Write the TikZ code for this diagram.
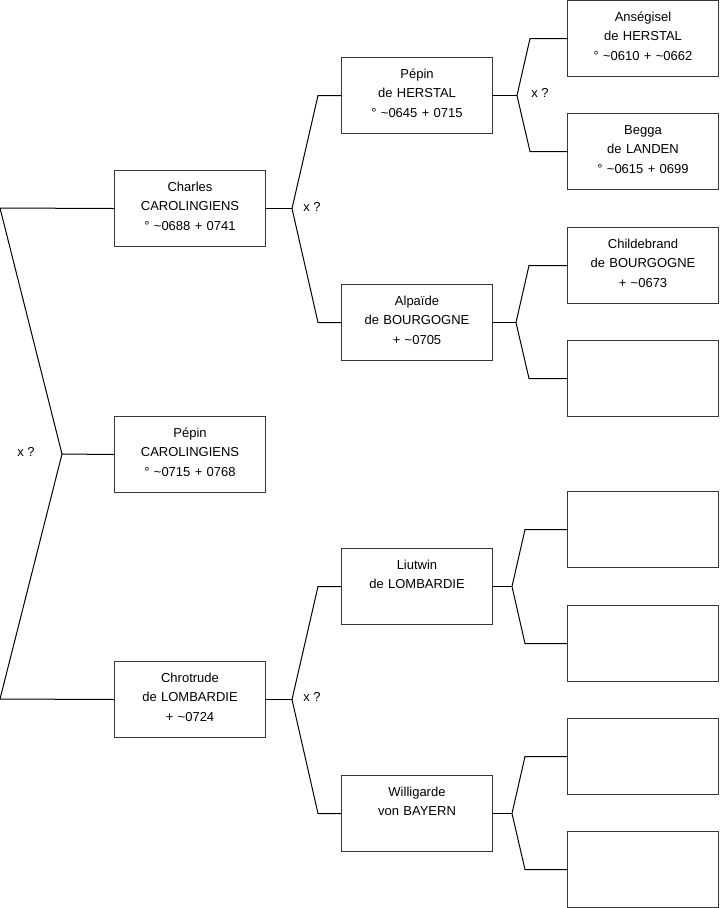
\documentclass[tikz,border=0pt]{standalone}
\usepackage{fontspec}
\setmainfont{Liberation Sans}
\usetikzlibrary{calc}

\definecolor{boxline}{RGB}{55,55,55}
\newcommand{\tld}{\textasciitilde}

\begin{document}
\begin{tikzpicture}[x=0.75pt, y=-0.75pt,
    personbox/.style={draw=boxline, line width=0.75pt, fill=white, anchor=north west,
      inner sep=0pt, text width=113.25pt, align=center,
      text height=15.75pt, text depth=41.25pt,
      font=\fontsize{9.75}{14.6}\selectfont},
    forkline/.style={line width=0.75pt},
    unionlabel/.style={inner sep=0pt, font=\fontsize{9.75}{11}\selectfont}]
  \useasboundingbox (0,0) rectangle (719,908);

  % generation 1
  \node[personbox] (charles)   at (114,170) {Charles\\CAROLINGIENS\\° \tld0688 + 0741};
  \node[personbox] (pepinC)    at (114,416) {Pépin\\CAROLINGIENS\\° \tld0715 + 0768};
  \node[personbox] (chrotrude) at (114,661) {Chrotrude\\de LOMBARDIE\\+ \tld0724};

  % generation 2
  \node[personbox] (pepinH)  at (341,57)  {Pépin\\de HERSTAL\\° \tld0645 + 0715};
  \node[personbox] (alpaide) at (341,284) {Alpaïde\\de BOURGOGNE\\+ \tld0705};
  \node[personbox] (liutwin) at (341,548) {Liutwin\\de LOMBARDIE};
  \node[personbox] (willi)   at (341,775) {Willigarde\\von BAYERN};

  % generation 3
  \node[personbox] (anse)   at (567,0)   {Anségisel\\de HERSTAL\\° \tld0610 + \tld0662};
  \node[personbox] (begga)  at (567,113) {Begga\\de LANDEN\\° \tld0615 + 0699};
  \node[personbox] (childe) at (567,227) {Childebrand\\de BOURGOGNE\\+ \tld0673};
  \node[personbox] (emptyA) at (567,340) {};
  \node[personbox] (emptyB) at (567,491) {};
  \node[personbox] (emptyC) at (567,605) {};
  \node[personbox] (emptyD) at (567,718) {};
  \node[personbox] (emptyE) at (567,831) {};

  % root fork
  \coordinate (rootJ)   at (62,454);
  \coordinate (rootTop) at (0,208);
  \coordinate (rootBot) at (0,699);
  \draw[forkline] (charles.west) -- (rootTop) -- (rootJ) -- (rootBot) -- (chrotrude.west);
  \draw[forkline] (rootJ) -- (pepinC.west);

  % parent forks
  \foreach \pa/\ca/\cb/\jx/\bx in {charles/pepinH/alpaide/26/23,
      pepinH/anse/begga/24/37, alpaide/childe/emptyA/23/38,
      chrotrude/liutwin/willi/26/23, liutwin/emptyB/emptyC/19/42,
      willi/emptyD/emptyE/19/42}{
    \draw[forkline] (\ca.west) -- ++(-\bx,0) -- ($(\pa.east)+(\jx,0)$)
      -- ($(\cb.west)+(-\bx,0)$) -- (\cb.west);
    \draw[forkline] (\pa.east) -- ++(\jx,0);
  }

  % union marks
  \node[unionlabel] (xRoot)      at (26,452)  {x ?};
  \node[unionlabel] (xCharles)   at (312,207) {x ?};
  \node[unionlabel] (xPepin)     at (540,93)  {x ?};
  \node[unionlabel] (xChrotrude) at (312,697) {x ?};
\end{tikzpicture}
\end{document}
